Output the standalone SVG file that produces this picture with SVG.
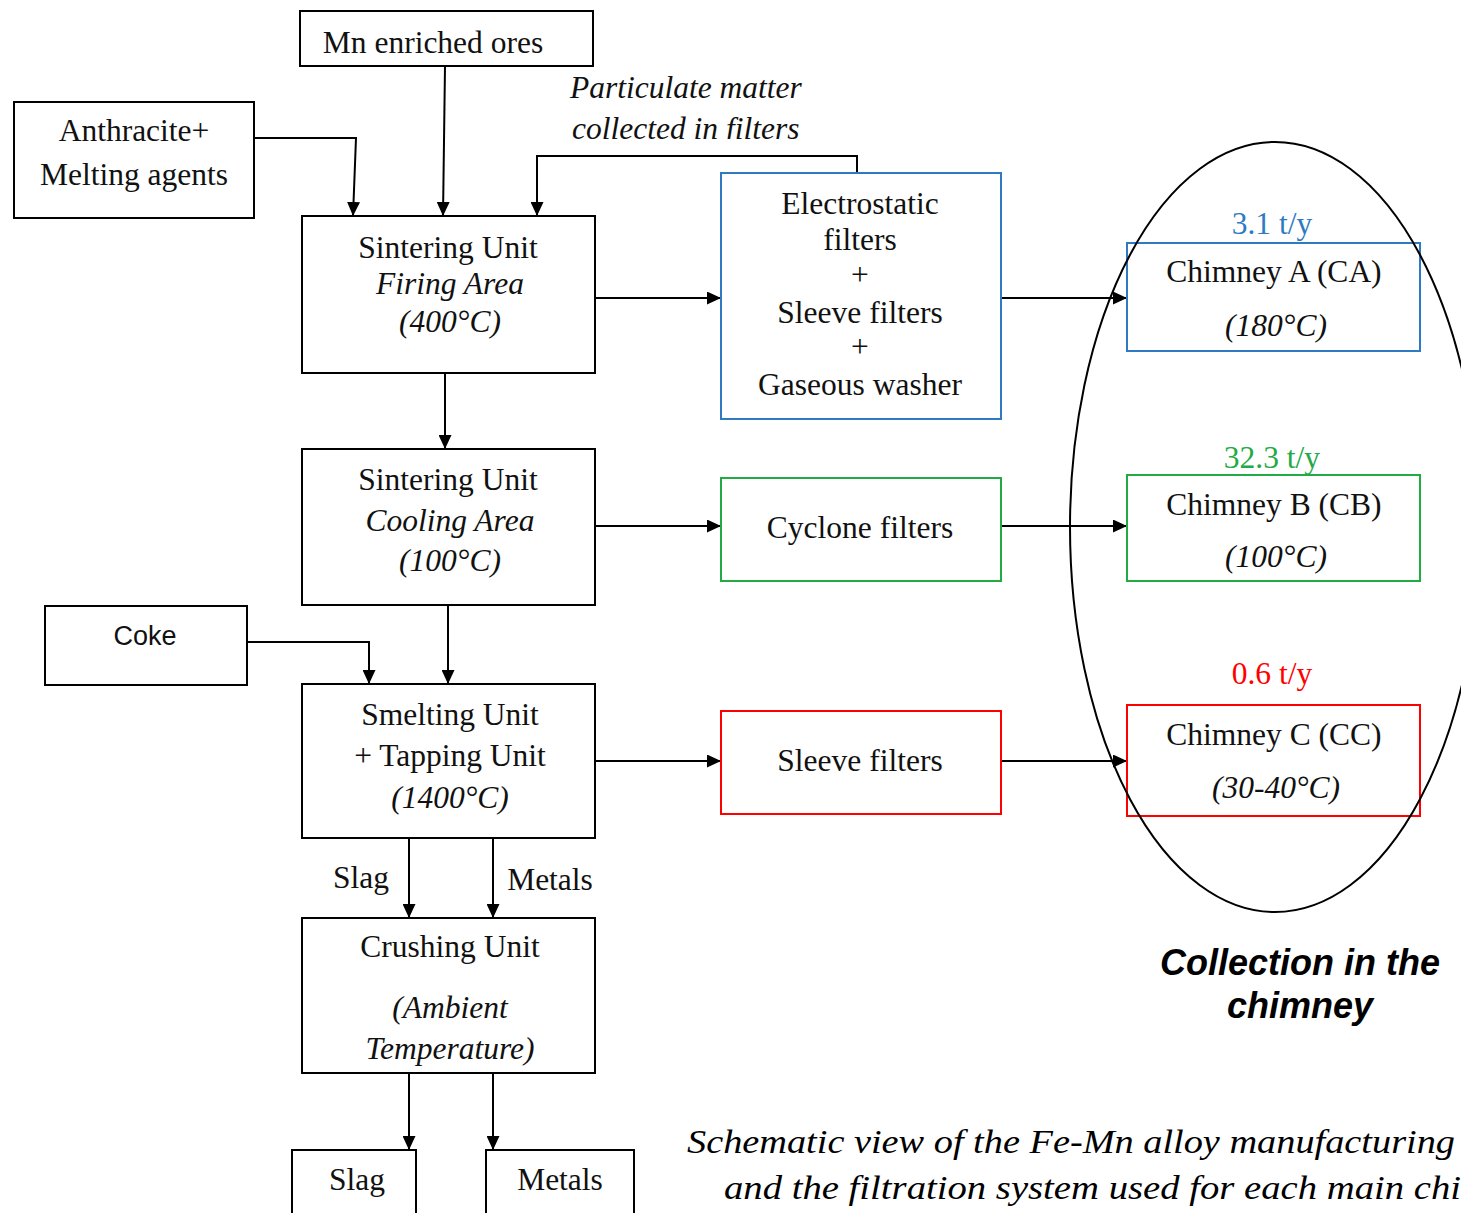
<svg xmlns="http://www.w3.org/2000/svg" width="1461" height="1213" viewBox="0 0 1461 1213">
<defs>
<marker id="ah" viewBox="0 0 14 13" refX="14" refY="6.5" markerWidth="14" markerHeight="13" markerUnits="userSpaceOnUse" orient="auto">
<path d="M0,0 L14,6.5 L0,13 Z" fill="#000"/>
</marker>
<clipPath id="pmclip"><rect x="560" y="60" width="300" height="79"/></clipPath>
<style>
.box{fill:#fff;stroke:#000;stroke-width:2}
.blue{fill:#fff;stroke:#2e7bc4;stroke-width:2}
.green{fill:#fff;stroke:#22aa44;stroke-width:2}
.red{fill:#fff;stroke:#ff0000;stroke-width:2}
.t{font-family:"Liberation Serif","Times New Roman",serif;font-size:31.5px;fill:#111;text-anchor:middle}
.i{font-style:italic}
.s{font-family:"Liberation Sans",Arial,sans-serif;font-size:27px;fill:#111;text-anchor:middle}
.c{fill:none;stroke:#000;stroke-width:2;marker-end:url(#ah)}
</style>
</defs>
<rect width="1461" height="1213" fill="#fff"/>

<g id="connectors">
<path class="c" d="M254,138 H356 L353,216"/>
<path class="c" d="M445,66 L443,216"/>
<path class="c" d="M857,173 V156 H537 V216"/>
<path class="c" d="M595,298 H721"/>
<path class="c" d="M1001,298 H1127"/>
<path class="c" d="M445,373 V449"/>
<path class="c" d="M595,526 H721"/>
<path class="c" d="M1001,526 H1127"/>
<path class="c" d="M448,605 V684"/>
<path class="c" d="M247,642 H369 V684"/>
<path class="c" d="M595,761 H721"/>
<path class="c" d="M1001,761 H1127"/>
<path class="c" d="M409,838 V918"/>
<path class="c" d="M493,838 V918"/>
<path class="c" d="M409,1073 V1150"/>
<path class="c" d="M493,1073 V1150"/>
</g>

<g id="n-ores"><rect class="box" x="300" y="11" width="293" height="55"/><text class="t" x="433" y="53">Mn enriched ores</text></g>
<g id="n-anthracite"><rect class="box" x="14" y="102" width="240" height="116"/><text class="t" x="134" y="141">Anthracite+</text><text class="t" x="134" y="185">Melting agents</text></g>
<g id="l-particulate" clip-path="url(#pmclip)"><text class="t i" x="570" y="98" style="text-anchor:start">Particulate matter</text><text class="t i" x="572" y="139" style="text-anchor:start">collected in filters</text></g>

<g id="n-firing"><rect class="box" x="302" y="216" width="293" height="157"/><text class="t" x="448" y="258">Sintering Unit</text><text class="t i" x="450" y="294">Firing Area</text><text class="t i" x="450" y="332">(400°C)</text></g>
<g id="n-electro"><rect class="blue" x="721" y="173" width="280" height="246"/><text class="t" x="860" y="214">Electrostatic</text><text class="t" x="860" y="250">filters</text><text class="t" x="860" y="285">+</text><text class="t" x="860" y="323">Sleeve filters</text><text class="t" x="860" y="357">+</text><text class="t" x="860" y="395">Gaseous washer</text></g>
<g id="n-chimA"><rect class="blue" x="1127" y="243" width="293" height="108"/><text class="t" x="1274" y="282">Chimney A (CA)</text><text class="t i" x="1276" y="336">(180°C)</text></g>
<text class="t" x="1272" y="234" style="fill:#2e7bc4">3.1 t/y</text>

<g id="n-cooling"><rect class="box" x="302" y="449" width="293" height="156"/><text class="t" x="448" y="490">Sintering Unit</text><text class="t i" x="450" y="531">Cooling Area</text><text class="t i" x="450" y="571">(100°C)</text></g>
<g id="n-cyclone"><rect class="green" x="721" y="478" width="280" height="103"/><text class="t" x="860" y="538">Cyclone filters</text></g>
<g id="n-chimB"><rect class="green" x="1127" y="475" width="293" height="106"/><text class="t" x="1274" y="515">Chimney B (CB)</text><text class="t i" x="1276" y="567">(100°C)</text></g>
<text class="t" x="1272" y="468" style="fill:#22aa44">32.3 t/y</text>

<g id="n-coke"><rect class="box" x="45" y="606" width="202" height="79"/><text class="s" x="145" y="645">Coke</text></g>
<g id="n-smelting"><rect class="box" x="302" y="684" width="293" height="154"/><text class="t" x="450" y="725">Smelting Unit</text><text class="t" x="450" y="766">+ Tapping Unit</text><text class="t i" x="450" y="808">(1400°C)</text></g>
<g id="n-sleeve"><rect class="red" x="721" y="711" width="280" height="103"/><text class="t" x="860" y="771">Sleeve filters</text></g>
<g id="n-chimC"><rect class="red" x="1127" y="705" width="293" height="111"/><text class="t" x="1274" y="745">Chimney C (CC)</text><text class="t i" x="1276" y="798">(30-40°C)</text></g>
<text class="t" x="1272" y="684" style="fill:#ff0000">0.6 t/y</text>

<text class="t" x="361" y="888">Slag</text>
<text class="t" x="550" y="890">Metals</text>

<g id="n-crushing"><rect class="box" x="302" y="918" width="293" height="155"/><text class="t" x="450" y="957">Crushing Unit</text><text class="t i" x="450" y="1018">(Ambient</text><text class="t i" x="450" y="1059">Temperature)</text></g>
<g id="n-slag"><rect class="box" x="292" y="1150" width="124" height="70"/><text class="t" x="357" y="1190">Slag</text></g>
<g id="n-metals"><rect class="box" x="486" y="1150" width="148" height="70"/><text class="t" x="560" y="1190">Metals</text></g>

<ellipse cx="1275" cy="527" rx="205" ry="385" fill="none" stroke="#000" stroke-width="2"/>

<text x="1300" y="975" style="font-family:'Liberation Sans',Arial,sans-serif;font-size:36px;font-weight:bold;font-style:italic;text-anchor:middle">Collection in the</text>
<text x="1300" y="1018" style="font-family:'Liberation Sans',Arial,sans-serif;font-size:36px;font-weight:bold;font-style:italic;text-anchor:middle">chimney</text>

<text x="687" y="1153" textLength="768" lengthAdjust="spacingAndGlyphs" style="font-family:'Liberation Serif',serif;font-size:34px;font-style:italic">Schematic view of the Fe-Mn alloy manufacturing</text>
<text x="724" y="1199" textLength="737" lengthAdjust="spacingAndGlyphs" style="font-family:'Liberation Serif',serif;font-size:34px;font-style:italic">and the filtration system used for each main chi</text>
</svg>
